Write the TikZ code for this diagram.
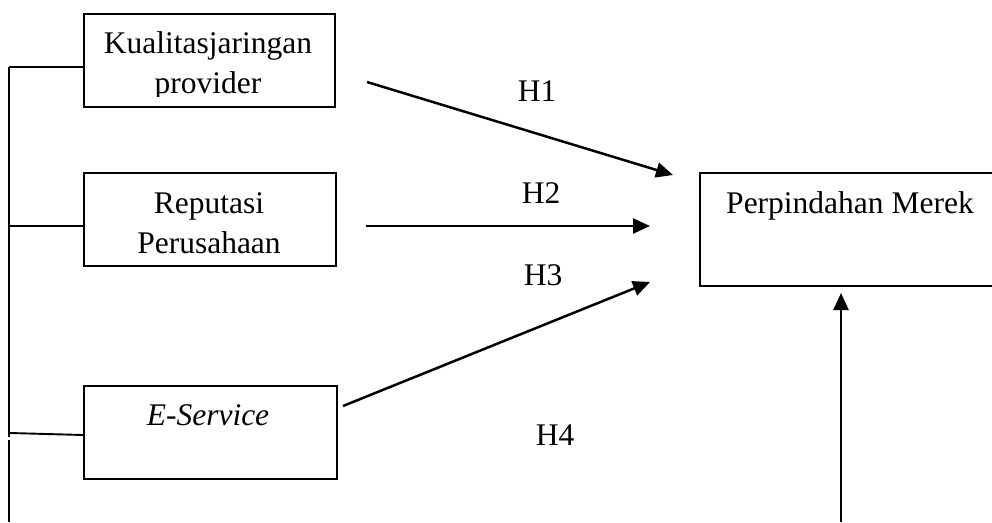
\documentclass[tikz,border=0pt]{standalone}
\usepackage{fontspec}
\setmainfont{Liberation Serif}
\usetikzlibrary{arrows.meta}
\begin{document}
\begin{tikzpicture}[x=1pt,y=-1pt,
  box/.style={draw,rectangle,line width=1.8pt,inner sep=0pt,anchor=north west},
  lbl/.style={inner sep=0pt,anchor=base,font=\fontsize{31.5}{40}\selectfont},
  link/.style={line width=1.9pt},
  path/.style={line width=2.5pt,-{Triangle[length=17pt,width=15pt]}}]
  \clip (0,0) rectangle (992,522);

  % construct boxes
  \node[box,minimum width=251pt,minimum height=93pt] (kj) at (83,13) {};
  \node[box,minimum width=252pt,minimum height=93pt] (rp) at (83,172) {};
  \node[box,minimum width=253pt,minimum height=93pt] (es) at (83,385) {};
  \node[box,minimum width=320pt,minimum height=113pt] (pm) at (699,172) {};

  % box texts
  \begin{scope}
    \clip (84,14) rectangle (333,96);
    \node[lbl] (kjA) at (208,53) {Kualitasjaringan};
    \node[lbl] (kjB) at (208,93) {provider};
  \end{scope}
  \node[lbl] (rpA) at (209,213) {Reputasi};
  \node[lbl] (rpB) at (209,253) {Perusahaan};
  \node[lbl] (esA) at (208,425) {\textit{E-Service}};
  \node[lbl] (pmA) at (850,213) {Perpindahan Merek};

  % left trunk linking the independent variables
  \coordinate (t0) at (9,67);
  \coordinate (t1) at (9,226);
  \coordinate (t2) at (10,433);
  \coordinate (g0) at (9,437);
  \coordinate (g1) at (9,440);
  \coordinate (t3) at (9,522);
  \draw[link] (t0) -- (g0);
  \draw[link] (g1) -- (t3);
  \draw[link] (t0) -- (t0 -| kj.west);
  \draw[link] (t1) -- (t1 -| rp.west);
  \draw[link] (t2) -- (83,435);

  % hypothesis paths
  \coordinate (h1s) at (367,82);
  \coordinate (h1e) at (673,175);
  \coordinate (h2s) at (366,226);
  \coordinate (h2e) at (650,226);
  \coordinate (h3s) at (343,406);
  \coordinate (h3e) at (650,282);
  \coordinate (h4s) at (841,522);
  \coordinate (h4e) at (841,293);
  \draw[path] (h1s) -- (h1e);
  \draw[path] (h2s) -- (h2e);
  \draw[path] (h3s) -- (h3e);
  \draw[path] (h4s) -- (h4e);

  \node[lbl] (H1) at (537,101) {H1};
  \node[lbl] (H2) at (541,203) {H2};
  \node[lbl] (H3) at (543,285) {H3};
  \node[lbl] (H4) at (555,445) {H4};
\end{tikzpicture}
\end{document}
